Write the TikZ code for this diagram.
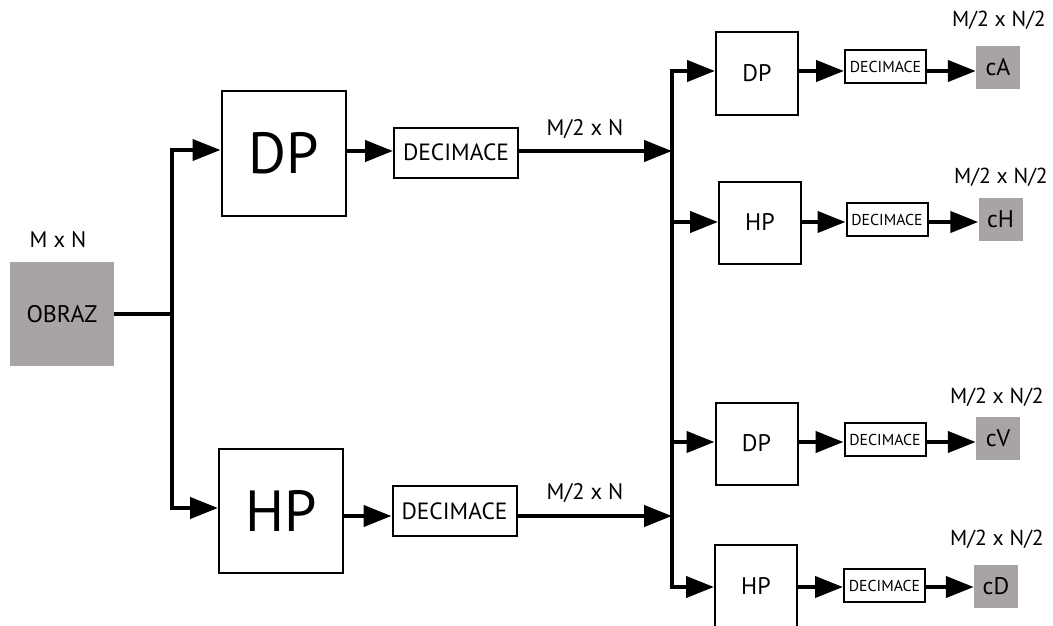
\documentclass[tikz,border=0pt]{standalone}
\usepackage{fontspec}
\setmainfont{PT Sans}
\usetikzlibrary{arrows.meta}
\definecolor{boxgray}{RGB}{167,164,163}
\begin{document}
\begin{tikzpicture}[x=1pt,y=-1pt,
  conn/.style={line width=4.2pt},
  arr/.style={conn,-{Triangle[length=28pt,width=21pt]}},
  box/.style={draw,line width=2pt,inner sep=0pt,anchor=center},
  bigbox/.style={box,minimum width=124pt,minimum height=124pt,font=\fontsize{58}{58}\selectfont},
  bigdec/.style={box,minimum width=124pt,minimum height=50pt,font=\fontsize{23.5}{23.5}\selectfont},
  smbox/.style={box,minimum width=82pt,minimum height=82pt,font=\fontsize{24}{24}\selectfont},
  smdec/.style={box,minimum width=81pt,minimum height=33pt,font=\fontsize{15.8}{15.8}\selectfont},
  gbox/.style={fill=boxgray,inner sep=0pt,minimum width=44pt,minimum height=43pt,font=\fontsize{24}{24}\selectfont},
  lbl/.style={inner sep=0pt,font=\fontsize{22.5}{22.5}\selectfont},
  slbl/.style={inner sep=0pt,font=\fontsize{21.7}{21.7}\selectfont}
]
\useasboundingbox (0,0) rectangle (1053,626);

% source
\node[fill=boxgray,inner sep=0pt,minimum width=104pt,minimum height=104pt,font=\fontsize{24}{24}\selectfont] (obraz) at (62,314) {OBRAZ};
\node[lbl] (lmn) at (58,240) {M x N};

% first stage
\node[bigbox] (dp1) at (283.5,153.5) {DP};
\node[bigdec] (dec1) at (456,152.5) {DECIMACE};
\node[bigbox] (hp1) at (281,511) {HP};
\node[bigdec] (dec2) at (454.5,511) {DECIMACE};
\node[lbl] (l1) at (585,129) {M/2 x N};
\node[lbl] (l2) at (585,493) {M/2 x N};

\coordinate (jL) at (172,314);
\draw[conn] (obraz.east) -- (jL);
\draw[arr] (jL) |- (dp1.west |- 0,150);
\draw[arr] (jL) |- (hp1.west |- 0,508);
\draw[arr] (dp1.east |- 0,151) -- (dec1.west |- 0,151);
\draw[arr] (hp1.east |- 0,516) -- (dec2.west |- 0,516);

\coordinate (rj1) at (672,151);
\coordinate (rj2) at (672,516);
\draw[arr] (dec1.east |- rj1) -- (rj1);
\draw[arr] (dec2.east |- rj2) -- (rj2);
\draw[conn] (rj1) -- (rj2);

% second stage
\node[smbox] (r1p) at (757,73.5) {DP};
\node[smdec] (r1d) at (885.5,67) {DECIMACE};
\node[gbox] (cA) at (998,67.5) {cA};
\node[slbl] (la) at (999,20) {M/2 x N/2};

\node[smbox] (r2p) at (760,222.5) {HP};
\node[smdec] (r2d) at (887,219.5) {DECIMACE};
\node[gbox] (cH) at (1000.5,219) {cH};
\node[slbl] (lh) at (1001,177) {M/2 x N/2};

\node[smbox] (r3p) at (756.5,443.5) {DP};
\node[smdec] (r3d) at (885,439.5) {DECIMACE};
\node[gbox] (cV) at (998,438) {cV};
\node[slbl] (lv) at (997,397) {M/2 x N/2};

\node[smbox] (r4p) at (756,586) {HP};
\node[smdec] (r4d) at (884.5,585.5) {DECIMACE};
\node[gbox] (cD) at (996,586) {cD};
\node[slbl] (ld) at (997,539) {M/2 x N/2};

\draw[arr] (rj1) |- (r1p.west |- 0,71);
\draw[arr] (rj2) |- (r4p.west |- 0,587);
\draw[arr] (rj1 |- 0,222) -- (r2p.west |- 0,222);
\draw[arr] (rj1 |- 0,442) -- (r3p.west |- 0,442);

\draw[arr] (r1p.east |- 0,71) -- (r1d.west |- 0,71);
\draw[arr] (r1d.east |- 0,71) -- (cA.west |- 0,71);
\draw[arr] (r2p.east |- 0,222) -- (r2d.west |- 0,222);
\draw[arr] (r2d.east |- 0,222) -- (cH.west |- 0,222);
\draw[arr] (r3p.east |- 0,442) -- (r3d.west |- 0,442);
\draw[arr] (r3d.east |- 0,442) -- (cV.west |- 0,442);
\draw[arr] (r4p.east |- 0,587) -- (r4d.west |- 0,587);
\draw[arr] (r4d.east |- 0,587) -- (cD.west |- 0,587);
\end{tikzpicture}
\end{document}
